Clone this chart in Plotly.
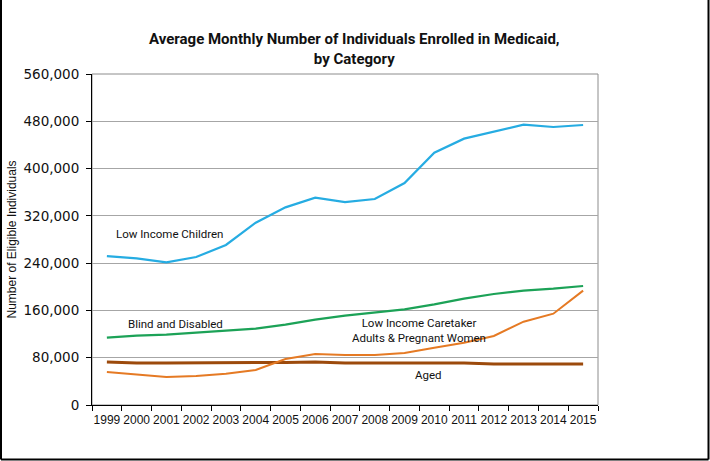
import plotly.graph_objects as go

years = [str(y) for y in range(1999, 2016)]
children = [252000, 248200, 241400, 250400, 270700, 308500, 334400, 350800, 343400,
            348500, 375600, 426900, 450600, 462400, 474200, 470300, 473700]
blind = [113900, 117300, 119000, 122400, 125700, 129100, 135900, 144300, 151100,
         156200, 161900, 170300, 179900, 187800, 193500, 196800, 201300]
caretaker = [55800, 51900, 47400, 49100, 53000, 59200, 77800, 86300, 84600,
             84600, 88000, 97000, 105400, 116700, 141000, 154500, 193500]
aged = [72700, 71100, 71100, 71100, 71100, 71100, 72000, 72700, 71100,
        71100, 71100, 71100, 71100, 69400, 69400, 69400, 69400]
y_ticks = [0, 80000, 160000, 240000, 320000, 400000, 480000, 560000]

L, R, T, B = 92, 112, 74, 56
W, H = 710, 461
pw, ph = W - L - R, H - T - B

fig = go.Figure()
fig.add_trace(go.Scatter(x=years, y=aged, mode="lines", line=dict(color="#9C4A0C", width=3)))
fig.add_trace(go.Scatter(x=years, y=caretaker, mode="lines", line=dict(color="#E57A24", width=2)))
fig.add_trace(go.Scatter(x=years, y=blind, mode="lines", line=dict(color="#1CA257", width=2.2)))
fig.add_trace(go.Scatter(x=years, y=children, mode="lines", line=dict(color="#26ACE2", width=2.2)))

lab_font = dict(family="Liberation Sans Narrow, Roboto, Arial", size=11.5, color="#111")
annos = [
    ("Low Income Children", 2.1, 289000),
    ("Blind and Disabled", 2.3, 137000),
    ("Low Income Caretaker<br>Adults & Pregnant Women", 10.5, 126000),
    ("Aged", 10.8, 50000),
]
for t, x, y in annos:
    fig.add_annotation(x=x, y=y, xref="x", yref="y", text=t, showarrow=False,
                       font=lab_font, align="center")

fig.add_annotation(xref="paper", yref="paper", x=(354.5 - L) / pw, y=1 + (T - 48) / ph,
                   yshift=20, xanchor="center",
                   text="<b>Average Monthly Number of Individuals Enrolled in Medicaid,<br>by Category</b>",
                   showarrow=False, font=dict(family="Roboto, Arial", size=15, color="#111"),
                   align="center")

# y-axis title placed in the left margin
fig.add_annotation(xref="paper", yref="paper", x=-(L - 11) / pw, y=0.5, textangle=-90,
                   xanchor="center", yanchor="middle",
                   text="Number of Eligible Individuals", showarrow=False,
                   font=dict(family="Liberation Sans, Arial", size=12, color="#111"))

# plot-area box (gray)
fig.add_shape(type="rect", xref="paper", yref="paper", x0=0, x1=1, y0=0, y1=1,
              line=dict(color="#8C8C8C", width=1), layer="below")
# outer frame: left, right, bottom
xl = -(L - 1) / pw
xr = 1 + (R - 1.5) / pw
yb = -(B - 1.5) / ph
yt = 1 + T / ph
for x0, y0, x1, y1 in [(xl, yb, xl, yt), (xr, yb, xr, yt), (xl, yb, xr, yb)]:
    fig.add_shape(type="line", xref="paper", yref="paper", x0=x0, y0=y0, x1=x1, y1=y1,
                  line=dict(color="#000", width=2))

fig.update_layout(
    width=W, height=H, margin=dict(l=L, r=R, t=T, b=B, autoexpand=False),
    paper_bgcolor="white", plot_bgcolor="white", showlegend=False,
    font=dict(family="DejaVu Sans", color="#111"),
)
fig.update_xaxes(type="category", range=[-0.5, 16.5], tickson="boundaries", ticks="outside",
                 ticklen=5, tickcolor="#000", showline=True, linecolor="#000", linewidth=1,
                 showgrid=False, tickangle=0, ticklabelstandoff=4, automargin=False,
                 tickfont=dict(family="Liberation Sans, Arial", size=12, color="#111"))
fig.update_yaxes(range=[0, 560000], tickvals=y_ticks, tickformat=",", ticks="outside", ticklen=5,
                 tickcolor="#000", showline=True, linecolor="#000", linewidth=1,
                 showgrid=True, gridcolor="#A6A6A6", gridwidth=1, zeroline=False,
                 automargin=False, ticklabelstandoff=4,
                 tickfont=dict(family="DejaVu Sans", size=13.5, color="#111"))

fig.write_html("out.html")
